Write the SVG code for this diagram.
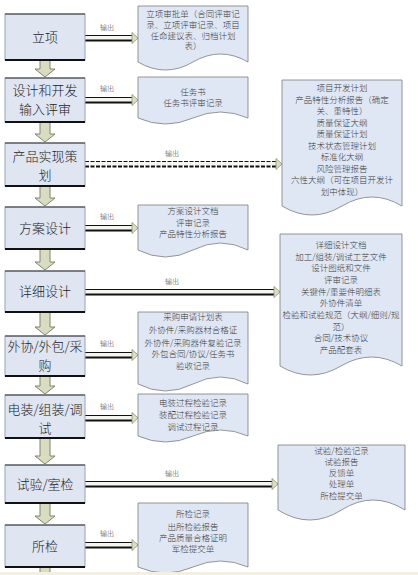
<svg xmlns="http://www.w3.org/2000/svg" width="418" height="575" viewBox="0 0 418 575">
<style>
text{font-family:"Noto Sans CJK SC","Noto Sans",sans-serif;fill:#2a2a2a}
.bx{fill:#dfe6f2;stroke:#98a3b6;stroke-width:1}
.bt{stroke:#333;stroke-width:1}
.bb{stroke:#111;stroke-width:2}
.t{font-size:13px;text-anchor:middle;font-weight:300;fill:#222}
.dn{fill:#d9dcbf;stroke:#80846a;stroke-width:1}
.doc{fill:#e0e7f4;stroke:#7c7c7c;stroke-width:0.8}
.d{font-size:8.5px;text-anchor:middle;fill:#3a3a3a;font-weight:300}
.o{font-size:7px;fill:#333;font-weight:300}
.sh{fill:#f6f6f0}
.l1{stroke:#111;stroke-width:1}
.l2{stroke:#111;stroke-width:2}
.hd{fill:#dcdfc2;stroke:#8d8f75;stroke-width:0.8}
.ds{stroke-dasharray:4 1.5}
</style>
<rect width="418" height="575" fill="#ffffff"/>

<g id="connectors">
  <path class="dn" d="M40,60 H50 V69 H55 L45,77 L35,69 H40 Z"/>
  <path class="dn" d="M40,122 H50 V134 H55 L45,142 L35,134 H40 Z"/>
  <path class="dn" d="M40,186 H50 V198 H55 L45,206 L35,198 H40 Z"/>
  <path class="dn" d="M40,249 H50 V262 H55 L45,270 L35,262 H40 Z"/>
  <path class="dn" d="M40,312 H50 V327 H55 L45,335 L35,327 H40 Z"/>
  <path class="dn" d="M40,376 H50 V386 H55 L45,394 L35,386 H40 Z"/>
  <path class="dn" d="M40,438 H50 V456 H55 L45,464 L35,456 H40 Z"/>
  <path class="dn" d="M40,503 H50 V516 H55 L45,524 L35,516 H40 Z"/>
  <path class="dn" d="M40,567 H50 V576 H40 Z"/>

  <g>
    <rect class="sh" x="85" y="35.5" width="47" height="5"/>
    <line class="l1" x1="85" y1="35.5" x2="132" y2="35.5"/>
    <line class="l2" x1="85" y1="40.5" x2="132" y2="40.5"/>
    <polygon class="hd" points="132,32.5 138,38 132,43.5"/>
    <text class="o" x="100" y="30">输出</text>
  </g>
  <g>
    <rect class="sh" x="85" y="97.5" width="47" height="5"/>
    <line class="l1" x1="85" y1="97.5" x2="132" y2="97.5"/>
    <line class="l2" x1="85" y1="102.5" x2="132" y2="102.5"/>
    <polygon class="hd" points="132,94.5 138,100 132,105.5"/>
    <text class="o" x="100" y="91">输出</text>
  </g>
  <g>
    <rect class="sh" x="85" y="161.5" width="191" height="5" fill="#eeeee6"/>
    <line class="l1 ds" x1="85" y1="161.5" x2="276" y2="161.5"/>
    <line class="l2 ds" x1="85" y1="166.5" x2="276" y2="166.5"/>
    <polygon class="hd" points="276,158.5 282,164 276,169.5"/>
    <text class="o" x="165" y="156">输出</text>
  </g>
  <g>
    <rect class="sh" x="85" y="225.5" width="47" height="5"/>
    <line class="l1" x1="85" y1="225.5" x2="132" y2="225.5"/>
    <line class="l2" x1="85" y1="230.5" x2="132" y2="230.5"/>
    <polygon class="hd" points="132,222.5 138,228 132,233.5"/>
    <text class="o" x="100" y="219">输出</text>
  </g>
  <g>
    <rect class="sh" x="85" y="289.5" width="189" height="5"/>
    <line class="l1" x1="85" y1="289.5" x2="274" y2="289.5"/>
    <line class="l2" x1="85" y1="294.5" x2="274" y2="294.5"/>
    <polygon class="hd" points="274,286.5 280,292 274,297.5"/>
    <text class="o" x="165" y="284">输出</text>
  </g>
  <g>
    <rect class="sh" x="85" y="352.5" width="47" height="5"/>
    <line class="l1" x1="85" y1="352.5" x2="132" y2="352.5"/>
    <line class="l2" x1="85" y1="357.5" x2="132" y2="357.5"/>
    <polygon class="hd" points="132,349.5 138,355 132,360.5"/>
    <text class="o" x="100" y="346">输出</text>
  </g>
  <g>
    <rect class="sh" x="85" y="415.5" width="47" height="5"/>
    <line class="l1" x1="85" y1="415.5" x2="132" y2="415.5"/>
    <line class="l2" x1="85" y1="420.5" x2="132" y2="420.5"/>
    <polygon class="hd" points="132,412.5 138,418 132,423.5"/>
    <text class="o" x="100" y="409">输出</text>
  </g>
  <g>
    <rect class="sh" x="85" y="481.5" width="187" height="5"/>
    <line class="l1" x1="85" y1="481.5" x2="272" y2="481.5"/>
    <line class="l2" x1="85" y1="486.5" x2="272" y2="486.5"/>
    <polygon class="hd" points="272,478.5 278,484 272,489.5"/>
    <text class="o" x="165" y="476">输出</text>
  </g>
  <g>
    <rect class="sh" x="85" y="542.5" width="47" height="5"/>
    <line class="l1" x1="85" y1="542.5" x2="132" y2="542.5"/>
    <line class="l2" x1="85" y1="547.5" x2="132" y2="547.5"/>
    <polygon class="hd" points="132,539.5 138,545 132,550.5"/>
    <text class="o" x="100" y="536">输出</text>
  </g>
</g>

<g id="p1"><rect class="bx" x="5" y="14" width="80" height="46"/><line class="bt" x1="5" y1="14" x2="85" y2="14"/><line class="bb" x1="5" y1="60" x2="85" y2="60"/><text class="t" x="45" y="42">立项</text></g>
<g id="p2"><rect class="bx" x="5" y="78" width="80" height="44"/><line class="bt" x1="5" y1="78" x2="85" y2="78"/><line class="bb" x1="5" y1="122" x2="85" y2="122"/><text class="t" x="45" y="95">设计和开发</text><text class="t" x="45" y="114">输入评审</text></g>
<g id="p3"><rect class="bx" x="5" y="143" width="80" height="43"/><line class="bt" x1="5" y1="143" x2="85" y2="143"/><line class="bb" x1="5" y1="186" x2="85" y2="186"/><text class="t" x="45" y="161">产品实现策</text><text class="t" x="45" y="180">划</text></g>
<g id="p4"><rect class="bx" x="5" y="207" width="80" height="42"/><line class="bt" x1="5" y1="207" x2="85" y2="207"/><line class="bb" x1="5" y1="249" x2="85" y2="249"/><text class="t" x="45" y="233">方案设计</text></g>
<g id="p5"><rect class="bx" x="5" y="271" width="80" height="41"/><line class="bt" x1="5" y1="271" x2="85" y2="271"/><line class="bb" x1="5" y1="312" x2="85" y2="312"/><text class="t" x="45" y="296">详细设计</text></g>
<g id="p6"><rect class="bx" x="5" y="336" width="80" height="40"/><line class="bt" x1="5" y1="336" x2="85" y2="336"/><line class="bb" x1="5" y1="376" x2="85" y2="376"/><text class="t" x="45" y="351">外协/外包/采</text><text class="t" x="45" y="370">购</text></g>
<g id="p7"><rect class="bx" x="5" y="395" width="80" height="43"/><line class="bt" x1="5" y1="395" x2="85" y2="395"/><line class="bb" x1="5" y1="438" x2="85" y2="438"/><text class="t" x="45" y="414">电装/组装/调</text><text class="t" x="45" y="433">试</text></g>
<g id="p8"><rect class="bx" x="5" y="465" width="80" height="38"/><line class="bt" x1="5" y1="465" x2="85" y2="465"/><line class="bb" x1="5" y1="503" x2="85" y2="503"/><text class="t" x="45" y="489">试验/室检</text></g>
<g id="p9"><rect class="bx" x="5" y="525" width="80" height="42"/><line class="bt" x1="5" y1="525" x2="85" y2="525"/><line class="bb" x1="5" y1="567" x2="85" y2="567"/><text class="t" x="45" y="551">所检</text></g>

<g id="d1">
  <path class="doc" d="M138,6 H248 V62 Q220.5,46 193,62 T138,62 Z"/>
  <text class="d" x="193" y="17">立项审批单（合同评审记</text>
  <text class="d" x="193" y="28">录、立项评审记录、项目</text>
  <text class="d" x="193" y="38.5">任命建议表、归档计划</text>
  <text class="d" x="193" y="49">表）</text>
</g>
<g id="d2">
  <path class="doc" d="M138,77 H248 V118 Q220.5,106 193,118 T138,118 Z"/>
  <text class="d" x="193" y="95">任务书</text>
  <text class="d" x="193" y="106">任务书评审记录</text>
</g>
<g id="d3">
  <path class="doc" d="M282,80 H402 V206 Q372,188 342,206 T282,206 Z"/>
  <text class="d" x="342" y="91">项目开发计划</text>
  <text class="d" x="342" y="102.5">产品特性分析报告（确定</text>
  <text class="d" x="342" y="114">关、重特性）</text>
  <text class="d" x="342" y="125.5">质量保证大纲</text>
  <text class="d" x="342" y="137">质量保证计划</text>
  <text class="d" x="342" y="148.5">技术状态管理计划</text>
  <text class="d" x="342" y="160">标准化大纲</text>
  <text class="d" x="342" y="171.5">风险管理报告</text>
  <text class="d" x="342" y="183">六性大纲（可在项目开发计</text>
  <text class="d" x="342" y="194.5">划中体现）</text>
</g>
<g id="d4">
  <path class="doc" d="M138,205 H248 V250 Q220.5,236 193,250 T138,250 Z"/>
  <text class="d" x="193" y="214">方案设计文档</text>
  <text class="d" x="193" y="226">评审记录</text>
  <text class="d" x="193" y="237">产品特性分析报告</text>
</g>
<g id="d5">
  <path class="doc" d="M280,234 H402 V366 Q371.5,348 341,366 T280,366 Z"/>
  <text class="d" x="341" y="248">详细设计文档</text>
  <text class="d" x="341" y="260">加工/组装/调试工艺文件</text>
  <text class="d" x="341" y="271">设计图纸和文件</text>
  <text class="d" x="341" y="283">评审记录</text>
  <text class="d" x="341" y="295">关键件/重要件明细表</text>
  <text class="d" x="341" y="306">外协件清单</text>
  <text class="d" x="341" y="318">检验和试验规范（大纲/细则/规</text>
  <text class="d" x="341" y="330">范）</text>
  <text class="d" x="341" y="341">合同/技术协议</text>
  <text class="d" x="341" y="353">产品配套表</text>
</g>
<g id="d6">
  <path class="doc" d="M138,312 H248 V384 Q220.5,370 193,384 T138,384 Z"/>
  <text class="d" x="193" y="320">采购申请计划表</text>
  <text class="d" x="193" y="333">外协件/采购器材合格证</text>
  <text class="d" x="193" y="346">外协件/采购器件复验记录</text>
  <text class="d" x="193" y="357">外包合同/协议/任务书</text>
  <text class="d" x="193" y="369">验收记录</text>
</g>
<g id="d7">
  <path class="doc" d="M138,394 H248 V436 Q220.5,424 193,436 T138,436 Z"/>
  <text class="d" x="193" y="406">电装过程检验记录</text>
  <text class="d" x="193" y="418">装配过程检验记录</text>
  <text class="d" x="193" y="430">调试过程记录</text>
</g>
<g id="d8">
  <path class="doc" d="M278,445 H405 V510 Q373,490 341.5,510 T278,510 Z"/>
  <text class="d" x="341.5" y="454">试验/检验记录</text>
  <text class="d" x="341.5" y="465">试验报告</text>
  <text class="d" x="341.5" y="476">反馈单</text>
  <text class="d" x="341.5" y="487">处理单</text>
  <text class="d" x="341.5" y="499">所检提交单</text>
</g>
<g id="d9">
  <path class="doc" d="M138,503 H248 V567 Q220.5,555 193,567 T138,567 Z"/>
  <text class="d" x="193" y="517">所检记录</text>
  <text class="d" x="193" y="530">出所检验报告</text>
  <text class="d" x="193" y="541">产品质量合格证明</text>
  <text class="d" x="193" y="552">军检提交单</text>
</g>
<rect x="0" y="572" width="418" height="3" fill="#f3f0e2"/>
</svg>
